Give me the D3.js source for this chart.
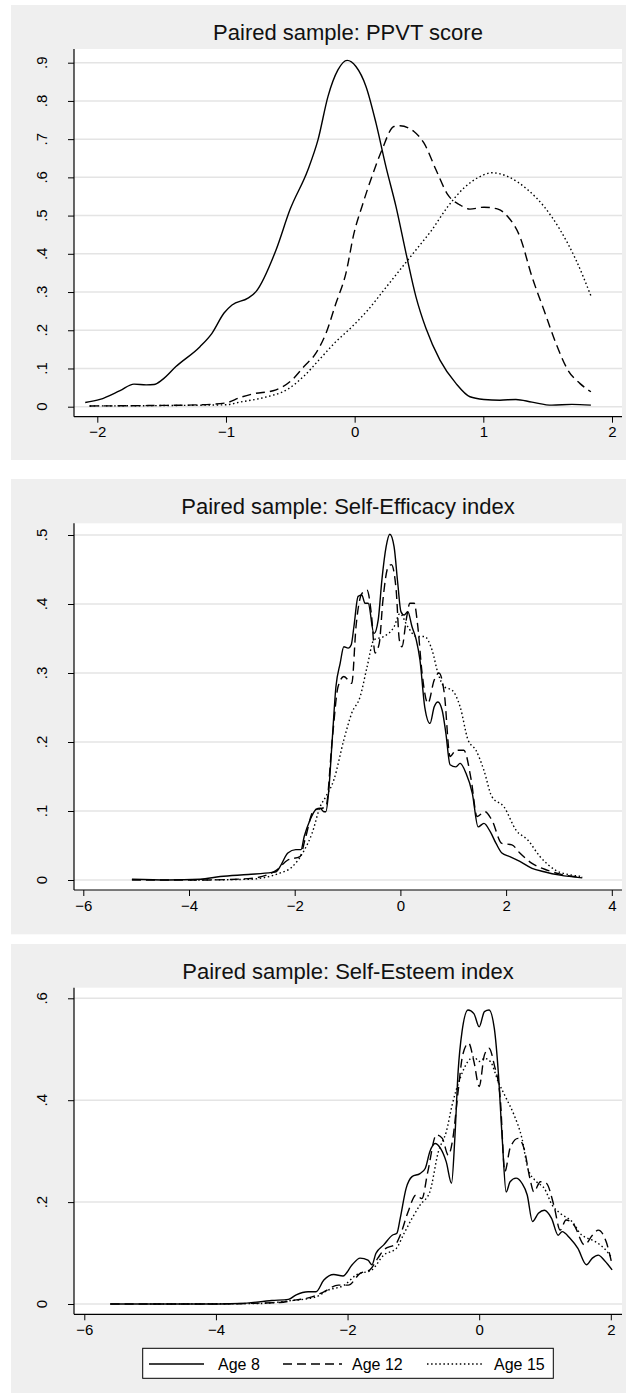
<!DOCTYPE html>
<html>
<head>
<meta charset="utf-8">
<script src="https://cdn.jsdelivr.net/npm/d3@7"></script>
<style>
  body { margin: 0; background: #fff; }
  svg { display: block; font-family: Arial, "Liberation Sans", sans-serif; }
</style>
</head>
<body>
<svg id="chart" width="626" height="1393"></svg>
<script>
// series labels
const ages = ["Age 8", "Age 12", "Age 15"];

// PPVT score, [x, density]
const ppvt8 = [[-2.094,0.011],[-1.979,0.019],[-1.823,0.042],[-1.715,0.059],[-1.62,0.057],[-1.559,0.058],[-1.497,0.07],[-1.389,0.105],[-1.202,0.157],[-1.109,0.192],[-1.015,0.245],[-0.953,0.266],[-0.829,0.284],[-0.767,0.301],[-0.611,0.41],[-0.503,0.515],[-0.363,0.62],[-0.285,0.698],[-0.207,0.812],[-0.130,0.881],[-0.058,0.906],[0.010,0.89],[0.088,0.838],[0.166,0.742],[0.243,0.628],[0.321,0.524],[0.399,0.402],[0.476,0.288],[0.554,0.205],[0.663,0.122],[0.787,0.061],[0.896,0.026],[1.005,0.019],[1.129,0.017],[1.253,0.019],[1.378,0.012],[1.533,0.004],[1.688,0.006],[1.836,0.004]];
const ppvt12 = [[-2.06,0.002],[-1.6,0.003],[-1.2,0.005],[-1.0,0.01],[-0.891,0.024],[-0.798,0.033],[-0.611,0.044],[-0.487,0.07],[-0.394,0.105],[-0.301,0.14],[-0.223,0.192],[-0.146,0.27],[-0.068,0.349],[-0.005,0.454],[0.057,0.524],[0.134,0.602],[0.212,0.672],[0.305,0.733],[0.352,0.735],[0.461,0.72],[0.538,0.69],[0.632,0.62],[0.725,0.554],[0.818,0.528],[0.896,0.517],[1.005,0.522],[1.114,0.517],[1.191,0.497],[1.284,0.445],[1.378,0.34],[1.471,0.253],[1.564,0.166],[1.657,0.096],[1.75,0.061],[1.836,0.039]];
const ppvt15 = [[-2.06,0.002],[-1.5,0.003],[-1.0,0.005],[-0.891,0.012],[-0.705,0.024],[-0.519,0.046],[-0.394,0.08],[-0.27,0.125],[-0.146,0.17],[-0.021,0.209],[0.103,0.253],[0.227,0.305],[0.352,0.358],[0.476,0.41],[0.601,0.463],[0.725,0.524],[0.849,0.572],[0.974,0.602],[1.067,0.612],[1.191,0.602],[1.347,0.567],[1.471,0.524],[1.596,0.463],[1.72,0.384],[1.836,0.29]];

// Self-Efficacy index
const eff8 = [[-5.08,0.001],[-4.40,0],[-3.79,0.001],[-3.41,0.005],[-2.88,0.008],[-2.43,0.011],[-2.35,0.012],[-2.28,0.019],[-2.13,0.039],[-1.98,0.044],[-1.88,0.044],[-1.82,0.063],[-1.71,0.087],[-1.60,0.102],[-1.52,0.104],[-1.45,0.099],[-1.41,0.099],[-1.36,0.126],[-1.29,0.203],[-1.22,0.28],[-1.14,0.314],[-1.07,0.338],[-0.99,0.336],[-0.93,0.341],[-0.88,0.367],[-0.80,0.411],[-0.73,0.413],[-0.67,0.401],[-0.61,0.401],[-0.50,0.357],[-0.42,0.377],[-0.35,0.435],[-0.27,0.483],[-0.20,0.501],[-0.12,0.483],[-0.05,0.43],[0.01,0.389],[0.07,0.384],[0.14,0.389],[0.22,0.367],[0.30,0.348],[0.37,0.319],[0.46,0.251],[0.56,0.227],[0.64,0.251],[0.71,0.258],[0.79,0.246],[0.86,0.213],[0.94,0.167],[1.05,0.164],[1.13,0.169],[1.24,0.155],[1.36,0.126],[1.47,0.077],[1.58,0.082],[1.70,0.07],[1.81,0.053],[1.92,0.039],[2.07,0.034],[2.26,0.027],[2.49,0.017],[2.72,0.012],[3.02,0.007],[3.44,0.003]];
const eff12 = [[-5.08,0],[-3.79,0],[-2.88,0.002],[-2.5,0.008],[-2.35,0.014],[-2.13,0.029],[-1.90,0.034],[-1.80,0.06],[-1.64,0.101],[-1.41,0.106],[-1.29,0.203],[-1.18,0.28],[-1.07,0.295],[-0.92,0.285],[-0.84,0.367],[-0.73,0.415],[-0.63,0.42],[-0.55,0.386],[-0.48,0.329],[-0.40,0.343],[-0.33,0.406],[-0.23,0.454],[-0.17,0.457],[-0.08,0.42],[-0.02,0.348],[0.03,0.338],[0.11,0.377],[0.18,0.401],[0.26,0.401],[0.33,0.367],[0.41,0.3],[0.52,0.256],[0.64,0.29],[0.73,0.3],[0.83,0.271],[0.94,0.179],[1.05,0.188],[1.20,0.188],[1.34,0.145],[1.45,0.092],[1.60,0.099],[1.73,0.087],[1.92,0.053],[2.11,0.051],[2.26,0.039],[2.49,0.024],[2.79,0.014],[3.10,0.007],[3.44,0.004]];
const eff15 = [[-3.98,0],[-2.88,0.001],[-2.28,0.01],[-2.05,0.019],[-1.82,0.043],[-1.67,0.068],[-1.52,0.106],[-1.41,0.121],[-1.26,0.145],[-1.07,0.203],[-0.92,0.242],[-0.76,0.266],[-0.63,0.309],[-0.50,0.348],[-0.31,0.353],[-0.12,0.367],[-0.01,0.386],[0.14,0.367],[0.30,0.353],[0.45,0.353],[0.60,0.333],[0.71,0.3],[0.83,0.28],[0.98,0.275],[1.13,0.251],[1.28,0.203],[1.43,0.188],[1.58,0.159],[1.73,0.121],[1.96,0.106],[2.19,0.072],[2.41,0.058],[2.64,0.034],[2.94,0.014],[3.25,0.007],[3.44,0.005]];

// Self-Esteem index
const est8 = [[-5.61,0],[-4.24,0],[-3.63,0.001],[-3.15,0.007],[-2.90,0.009],[-2.78,0.018],[-2.60,0.024],[-2.48,0.024],[-2.36,0.047],[-2.21,0.058],[-2.07,0.055],[-1.93,0.077],[-1.81,0.09],[-1.69,0.086],[-1.63,0.077],[-1.57,0.099],[-1.45,0.116],[-1.32,0.135],[-1.25,0.139],[-1.20,0.168],[-1.11,0.227],[-1.02,0.25],[-0.90,0.256],[-0.82,0.266],[-0.75,0.299],[-0.67,0.315],[-0.59,0.306],[-0.50,0.279],[-0.42,0.237],[-0.37,0.325],[-0.32,0.456],[-0.26,0.535],[-0.17,0.577],[-0.08,0.57],[0.0,0.544],[0.08,0.574],[0.15,0.577],[0.23,0.541],[0.29,0.456],[0.35,0.325],[0.41,0.22],[0.47,0.24],[0.56,0.247],[0.65,0.237],[0.73,0.214],[0.81,0.162],[0.90,0.178],[0.99,0.184],[1.10,0.168],[1.20,0.135],[1.26,0.142],[1.38,0.129],[1.50,0.109],[1.63,0.077],[1.72,0.09],[1.81,0.096],[1.90,0.086],[2.02,0.067]];
const est12 = [[-5.6,0],[-4.2,0],[-3.03,0.003],[-2.78,0.008],[-2.54,0.014],[-2.36,0.024],[-2.14,0.037],[-1.99,0.037],[-1.81,0.06],[-1.66,0.067],[-1.54,0.09],[-1.45,0.106],[-1.26,0.119],[-1.20,0.135],[-1.08,0.181],[-0.96,0.214],[-0.87,0.207],[-0.78,0.26],[-0.65,0.332],[-0.56,0.325],[-0.47,0.292],[-0.40,0.325],[-0.32,0.417],[-0.25,0.489],[-0.16,0.512],[-0.08,0.476],[0.0,0.427],[0.08,0.489],[0.15,0.502],[0.23,0.469],[0.32,0.404],[0.39,0.26],[0.47,0.306],[0.59,0.325],[0.68,0.306],[0.77,0.247],[0.83,0.22],[0.93,0.24],[1.02,0.237],[1.14,0.191],[1.23,0.145],[1.32,0.165],[1.44,0.155],[1.60,0.116],[1.72,0.135],[1.81,0.145],[1.93,0.122],[2.02,0.077]];
const est15 = [[-5.0,0],[-3.33,0.001],[-2.90,0.006],[-2.48,0.014],[-2.30,0.027],[-2.05,0.037],[-1.87,0.057],[-1.63,0.067],[-1.45,0.096],[-1.26,0.109],[-1.14,0.139],[-1.02,0.168],[-0.90,0.194],[-0.75,0.22],[-0.62,0.299],[-0.50,0.338],[-0.41,0.391],[-0.29,0.443],[-0.17,0.476],[-0.08,0.485],[0.0,0.476],[0.08,0.482],[0.17,0.476],[0.29,0.436],[0.41,0.404],[0.53,0.371],[0.65,0.325],[0.74,0.266],[0.87,0.24],[0.99,0.227],[1.11,0.194],[1.23,0.178],[1.41,0.162],[1.56,0.135],[1.65,0.129],[1.77,0.122],[1.90,0.109],[2.02,0.09]];

// tick values
const ppvtXTicks = [-2, -1, 0, 1, 2];
const ppvtYTicks = [0, .1, .2, .3, .4, .5, .6, .7, .8, .9];
const effXTicks = [-6, -4, -2, 0, 2, 4];
const effYTicks = [0, .1, .2, .3, .4, .5];
const estXTicks = [-6, -4, -2, 0, 2];
const estYTicks = [0, .2, .4, .6];

const dashes = [null, "9,5", "1.5,2.6"];

const panels = [
  { title: "Paired sample: PPVT score", bg: [5, 460], top: 49, axisY: 416.7,
    xd: [-2, 2], xr: [97.3, 612], yd: [0, .9], yr: [406.7, 62.7],
    xt: ppvtXTicks, yt: ppvtYTicks, series: [ppvt8, ppvt12, ppvt15] },
  { title: "Paired sample: Self-Efficacy index", bg: [479, 934.3], top: 523.3, axisY: 890,
    xd: [-6, 4], xr: [83.3, 611.8], yd: [0, .5], yr: [880, 535],
    xt: effXTicks, yt: effYTicks, series: [eff8, eff12, eff15] },
  { title: "Paired sample: Self-Esteem index", bg: [944, 1393], top: 987.7, axisY: 1314.3,
    xd: [-6, 2], xr: [84.3, 610.8], yd: [0, .6], yr: [1304, 998.3],
    xt: estXTicks, yt: estYTicks, series: [est8, est12, est15] }
];

const L = 74, R = 622;
const svg = d3.select("#chart");
const yfmt = d => d === 0 ? "0" : d3.format(".1f")(d).replace(/^0/, "");

panels.forEach(p => {
  const g = svg.append("g");
  g.append("rect").attr("x", 11).attr("y", p.bg[0])
    .attr("width", 626 - 11).attr("height", p.bg[1] - p.bg[0]).attr("fill", "#efefef");
  g.append("rect").attr("x", L).attr("y", p.top)
    .attr("width", R - L).attr("height", p.axisY - p.top).attr("fill", "#fff");

  const x = d3.scaleLinear().domain(p.xd).range(p.xr);
  const y = d3.scaleLinear().domain(p.yd).range(p.yr);

  // grid
  g.selectAll(".grid").data(p.yt).join("line")
    .attr("x1", L).attr("x2", R)
    .attr("y1", d => y(d)).attr("y2", d => y(d))
    .attr("stroke", "#e4e4e4").attr("stroke-width", 1.5);

  // title
  g.append("text").attr("x", (L + R) / 2).attr("y", p.top - 9)
    .attr("text-anchor", "middle").attr("font-size", 22).attr("fill", "#111")
    .text(p.title);

  // x axis
  const xa = g.append("g").attr("transform", `translate(0,${p.axisY})`)
    .call(d3.axisBottom(x).tickValues(p.xt).tickSize(6).tickPadding(4).tickFormat(d3.format("d")));
  xa.select(".domain").remove();
  xa.selectAll("text").attr("font-size", 15).attr("fill", "#000")
    .attr("font-family", "Arial, 'Liberation Sans', sans-serif");
  xa.selectAll("line").attr("stroke", "#000");

  // y axis
  const ya = g.append("g").attr("transform", `translate(${L},0)`)
    .call(d3.axisLeft(y).tickValues(p.yt).tickSize(6).tickFormat(""));
  ya.select(".domain").remove();
  ya.selectAll("line").attr("stroke", "#000");
  g.selectAll(".ylab").data(p.yt).join("text")
    .attr("transform", d => `translate(47,${y(d)}) rotate(-90)`)
    .attr("text-anchor", "middle").attr("font-size", 15).attr("fill", "#000")
    .text(yfmt);

  // axis lines
  g.append("line").attr("x1", L).attr("x2", L).attr("y1", p.top).attr("y2", p.axisY)
    .attr("stroke", "#000").attr("stroke-width", 1.2);
  g.append("line").attr("x1", L).attr("x2", R).attr("y1", p.axisY).attr("y2", p.axisY)
    .attr("stroke", "#000").attr("stroke-width", 1.2);

  const line = d3.line().x(d => x(d[0])).y(d => y(d[1])).curve(d3.curveMonotoneX);
  p.series.forEach((s, i) => {
    g.append("path").datum(s).attr("d", line)
      .attr("fill", "none").attr("stroke", "#000").attr("stroke-width", 1.4)
      .attr("stroke-dasharray", dashes[i]);
  });
});

// legend
const lg = svg.append("g");
lg.append("rect").attr("x", 142.7).attr("y", 1348.3).attr("width", 410.6).attr("height", 30)
  .attr("fill", "#fff").attr("stroke", "#000").attr("stroke-width", 1);
const legX = [[149, 204, 218], [283, 342, 352], [427, 483, 494]];
ages.forEach((a, i) => {
  lg.append("line").attr("x1", legX[i][0]).attr("x2", legX[i][1])
    .attr("y1", 1364).attr("y2", 1364).attr("stroke", "#000").attr("stroke-width", 1.4)
    .attr("stroke-dasharray", dashes[i]);
  lg.append("text").attr("x", legX[i][2]).attr("y", 1370).attr("font-size", 16)
    .attr("fill", "#000").text(a);
});
</script>
</body>
</html>
